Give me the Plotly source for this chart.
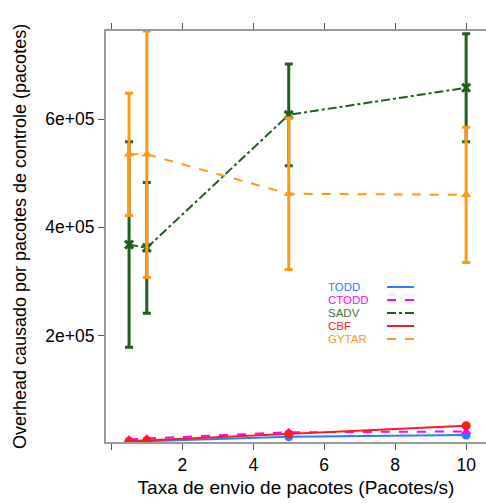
import plotly.graph_objects as go

x = [0.5, 1, 5, 10]
todd = [3000, 4500, 12500, 16000]
ctodd = [7500, 9500, 21000, 22500]
sadv = [368000, 362000, 608000, 658000]
sadv_err = [190000, 121000, 94000, 100000]
cbf = [4500, 6000, 18000, 33000]
gytar = [535000, 535000, 462000, 460000]
gytar_err = [113000, 228000, 140000, 125000]

names = ["TODD", "CTODD", "SADV", "CBF", "GYTAR"]
colors = ["#2F7BFF", "#FF00FF", "#1E5E1E", "#FF1A1A", "#FF9A10"]
dashes = ["solid", "dash", "dashdot", "solid", "dash"]
symbols = ["circle", "triangle-up", "x-thin-open", "circle", "triangle-up"]

fig = go.Figure()

def add(y, i, err=None):
    kw = {}
    if err is not None:
        kw["error_y"] = dict(type="data", array=err, visible=True, thickness=3,
                             width=4, color=colors[i])
    sym = symbols[i]
    marker = dict(color=colors[i], size=9, symbol=sym)
    if sym == "x-thin-open":
        marker = dict(color=colors[i], size=8, symbol="x-thin-open",
                      line=dict(width=3, color=colors[i]))
    fig.add_trace(go.Scatter(x=x, y=y, mode="lines+markers", name=names[i],
                             line=dict(color=colors[i], dash=dashes[i], width=2),
                             marker=marker, showlegend=False, **kw))

add(todd, 0)
add(ctodd, 1)
add(cbf, 3)
add(sadv, 2, sadv_err)
add(gytar, 4, gytar_err)

# manual legend (text left, line sample right)
W, H = 486, 503
ml, mt, mb, mr = 106, 31, 61, 0
pw, ph = W - ml - mr, H - mt - mb
ys = [287, 300, 313, 326, 339]
for i, n in enumerate(names):
    yp = 1 - (ys[i] - mt) / ph
    fig.add_annotation(x=(327 - ml) / pw, y=yp, xref="paper", yref="paper",
                       text=n, showarrow=False, xanchor="left", yanchor="middle",
                       borderpad=0,
                       font=dict(color=colors[i] if i != 2 else "#3E7A3A", size=11.5,
                                 family="Liberation Sans"))
    fig.add_shape(type="line", xref="paper", yref="paper",
                  x0=(387 - ml) / pw, x1=(414 - ml) / pw, y0=yp, y1=yp,
                  line=dict(color=colors[i], width=2, dash=dashes[i]))

fig.update_layout(
    width=W, height=H,
    margin=dict(l=ml, r=mr, t=mt, b=mb),
    paper_bgcolor="white", plot_bgcolor="white",
    font=dict(family="Liberation Sans", size=17.5, color="black"),
    xaxis=dict(range=[-0.15, 10.56], tickvals=[0, 2, 4, 6, 8, 10],
               ticktext=["", "2", "4", "6", "8", "10"],
               showgrid=False, zeroline=False, showline=True, linecolor="#9a9a9a",
               linewidth=2, mirror="ticks", ticks="outside", ticklen=6,
               tickcolor="#555555", tickwidth=1,
               title=dict(text="Taxa de envio de pacotes (Pacotes/s)", standoff=7,
                          font=dict(size=19))),
    yaxis=dict(range=[3000, 763000], tickvals=[200000, 400000, 600000],
               ticktext=["2e+05", "4e+05", "6e+05"],
               showgrid=False, zeroline=False, showline=True, linecolor="#9a9a9a",
               linewidth=2, ticks="outside", ticklen=6, tickcolor="#555555", tickwidth=1,
               title=dict(text="Overhead causado por pacotes de controle (pacotes)",
                          standoff=14, font=dict(size=18))),
)

fig.write_html("out.html")
